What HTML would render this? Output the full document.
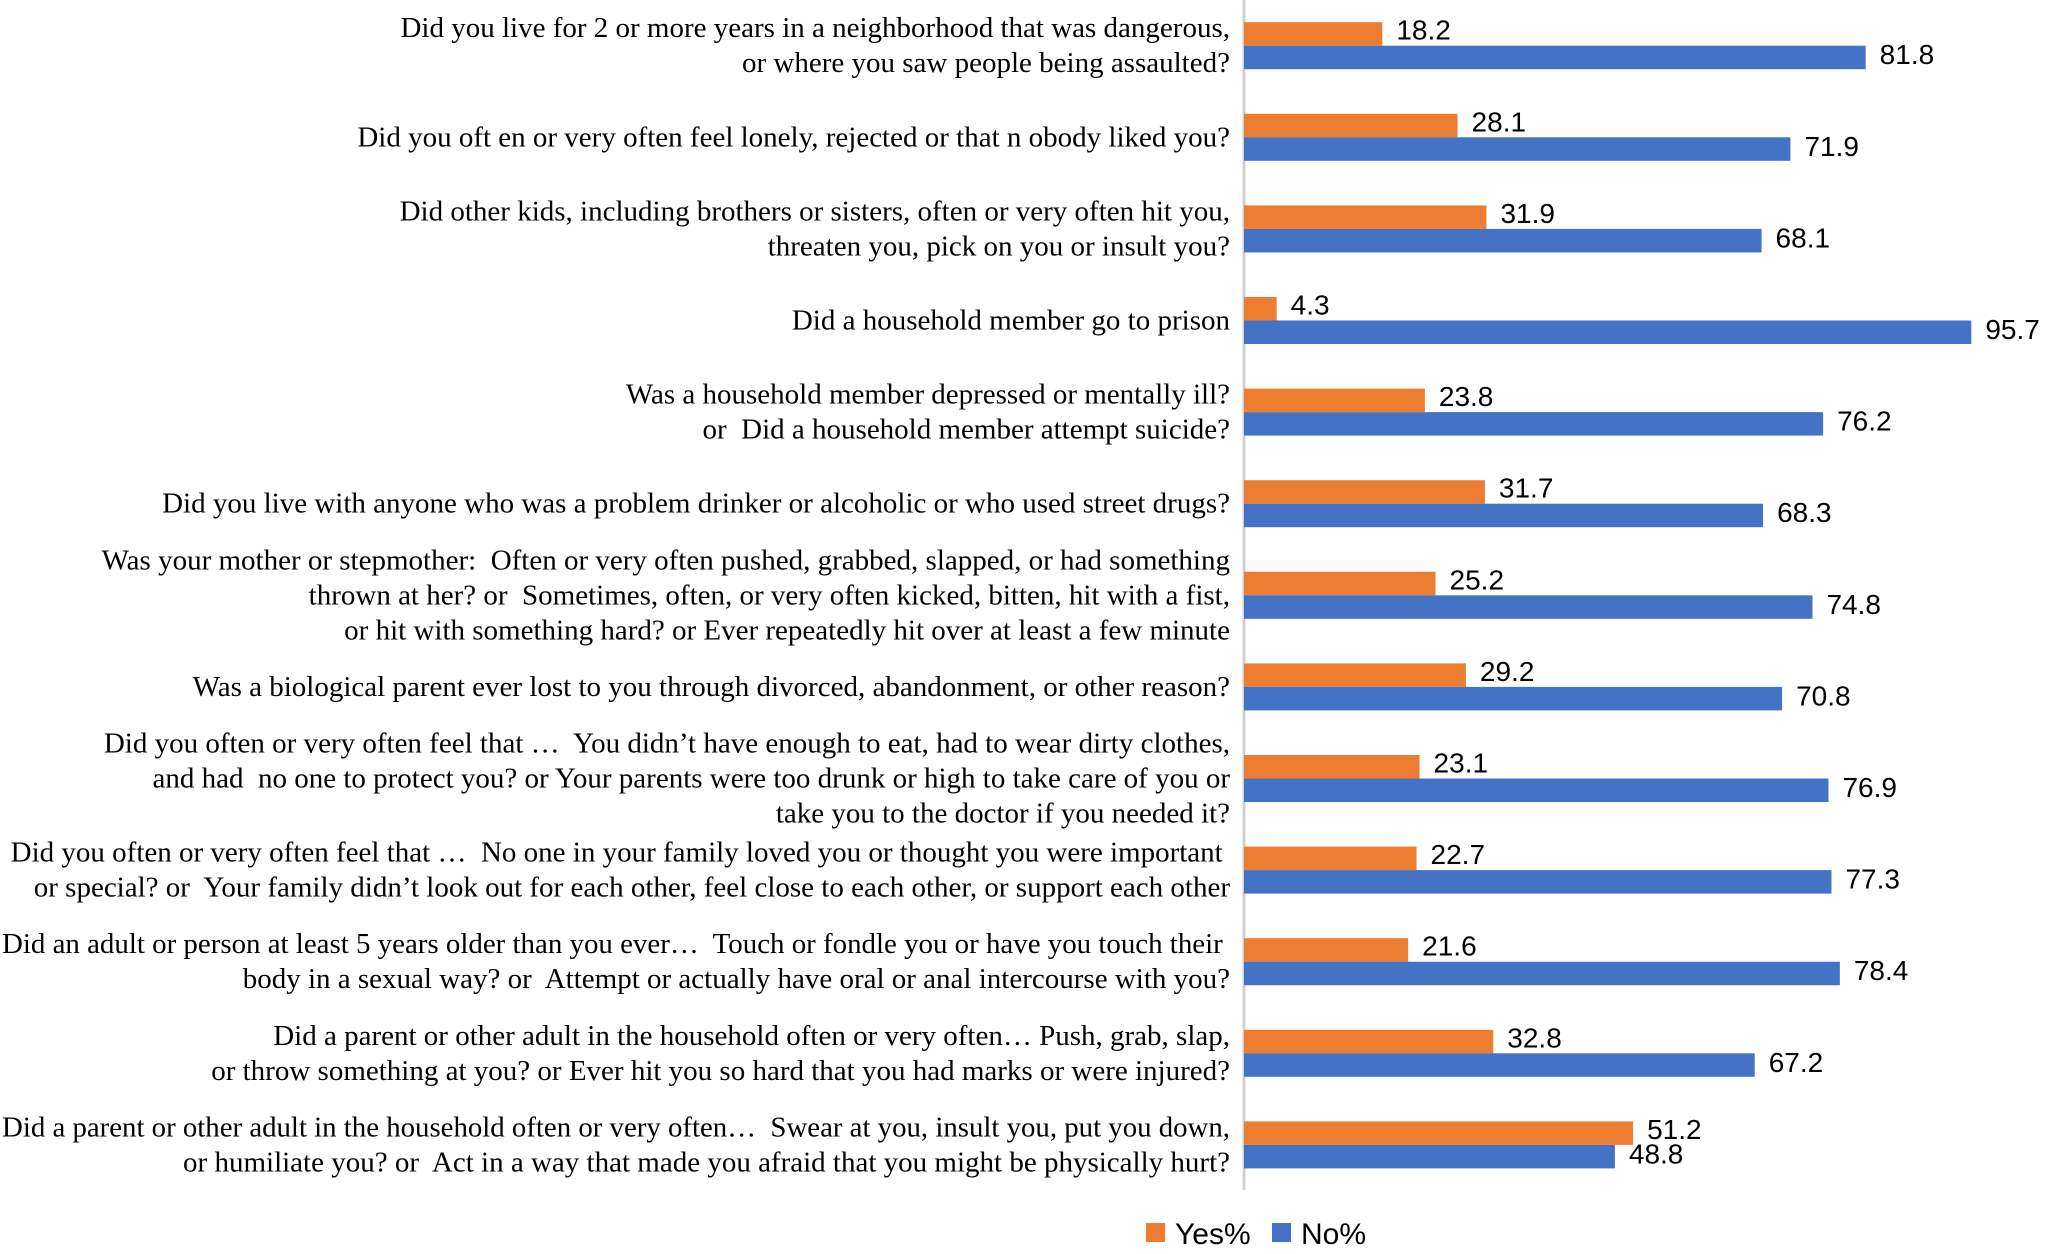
<!DOCTYPE html>
<html><head><meta charset="utf-8"><style>
html,body{margin:0;padding:0;background:#fff;}
svg{display:block;}
.lab{font-family:"Liberation Serif",serif;font-size:29px;fill:#000;white-space:pre;}
.val{font-family:"Liberation Sans",sans-serif;font-size:28px;fill:#000;}
.leg{font-family:"Liberation Sans",sans-serif;font-size:30px;fill:#000;}
</style></head><body>
<svg id="chart" width="2046" height="1254" viewBox="0 0 2046 1254" xmlns="http://www.w3.org/2000/svg"></svg>
<script>
const categories = [
 ["Did you live for 2 or more years in a neighborhood that was dangerous,","or where you saw people being assaulted?"],
 ["Did you oft en or very often feel lonely, rejected or that n obody liked you?"],
 ["Did other kids, including brothers or sisters, often or very often hit you,","threaten you, pick on you or insult you?"],
 ["Did a household member go to prison"],
 ["Was a household member depressed or mentally ill?","or  Did a household member attempt suicide?"],
 ["Did you live with anyone who was a problem drinker or alcoholic or who used street drugs?"],
 ["Was your mother or stepmother:  Often or very often pushed, grabbed, slapped, or had something","thrown at her? or  Sometimes, often, or very often kicked, bitten, hit with a fist,","or hit with something hard? or Ever repeatedly hit over at least a few minute"],
 ["Was a biological parent ever lost to you through divorced, abandonment, or other reason?"],
 ["Did you often or very often feel that \u2026  You didn\u2019t have enough to eat, had to wear dirty clothes,","and had  no one to protect you? or Your parents were too drunk or high to take care of you or","take you to the doctor if you needed it?"],
 ["Did you often or very often feel that \u2026  No one in your family loved you or thought you were important ","or special? or  Your family didn\u2019t look out for each other, feel close to each other, or support each other"],
 ["Did an adult or person at least 5 years older than you ever\u2026  Touch or fondle you or have you touch their ","body in a sexual way? or  Attempt or actually have oral or anal intercourse with you?"],
 ["Did a parent or other adult in the household often or very often\u2026 Push, grab, slap,","or throw something at you? or Ever hit you so hard that you had marks or were injured?"],
 ["Did a parent or other adult in the household often or very often\u2026  Swear at you, insult you, put you down,","or humiliate you? or  Act in a way that made you afraid that you might be physically hurt?"]
];
const yesValues = [18.2,28.1,31.9,4.3,23.8,31.7,25.2,29.2,23.1,22.7,21.6,32.8,51.2];
const noValues  = [81.8,71.9,68.1,95.7,76.2,68.3,74.8,70.8,76.9,77.3,78.4,67.2,48.8];
const seriesNames = ["Yes%","No%"];

const NS="http://www.w3.org/2000/svg";
const svg=document.getElementById('chart');
const X0=1244, UNIT=7.6, Y0=45.7, STEP=91.6, BH=23.5, LH=35;
const xScale=v=>v*UNIT;
const yCenter=i=>Y0+i*STEP;
function mk(tag,attrs){const e=document.createElementNS(NS,tag);for(const k in attrs)e.setAttribute(k,attrs[k]);svg.appendChild(e);return e;}

const axis=mk('line',{x1:X0,y1:0,x2:X0,y2:1190,stroke:'#d0d0d0','stroke-width':3});



categories.forEach((lines,i)=>{
  const cy=yCenter(i);
  const r1=mk('rect',{x:X0,y:cy-BH,width:xScale(yesValues[i]),height:BH,fill:'#ED7D31'});
  
  
  const r2=mk('rect',{x:X0,y:cy,width:xScale(noValues[i]),height:BH,fill:'#4472C4'});
  
  
  const t1=mk('text',{x:X0+xScale(yesValues[i])+14,y:cy-6,class:'val'});
  t1.textContent=yesValues[i].toFixed(1);
  
  
  const t2=mk('text',{x:X0+xScale(noValues[i])+14,y:cy+BH-5,class:'val'});
  t2.textContent=noValues[i].toFixed(1);
  
  
  const n=lines.length;
  lines.forEach((ln,j)=>{
    const ty=cy+(j-(n-1)/2)*LH+9;
    const t=mk('text',{x:1230,y:ty,'text-anchor':'end',class:'lab'});
    t.textContent=ln;
    
    
    if(t.getComputedTextLength()>1228){t.setAttribute('textLength',1228);t.setAttribute('lengthAdjust','spacingAndGlyphs');}
  });
});

const ls1=mk('rect',{x:1146,y:1223,width:19,height:19,fill:'#ED7D31'});


const lt1=mk('text',{x:1175,y:1244,class:'leg'});lt1.textContent=seriesNames[0];


const ls2=mk('rect',{x:1272,y:1223,width:19,height:19,fill:'#4472C4'});


const lt2=mk('text',{x:1301,y:1244,class:'leg'});lt2.textContent=seriesNames[1];


</script>
</body></html>
